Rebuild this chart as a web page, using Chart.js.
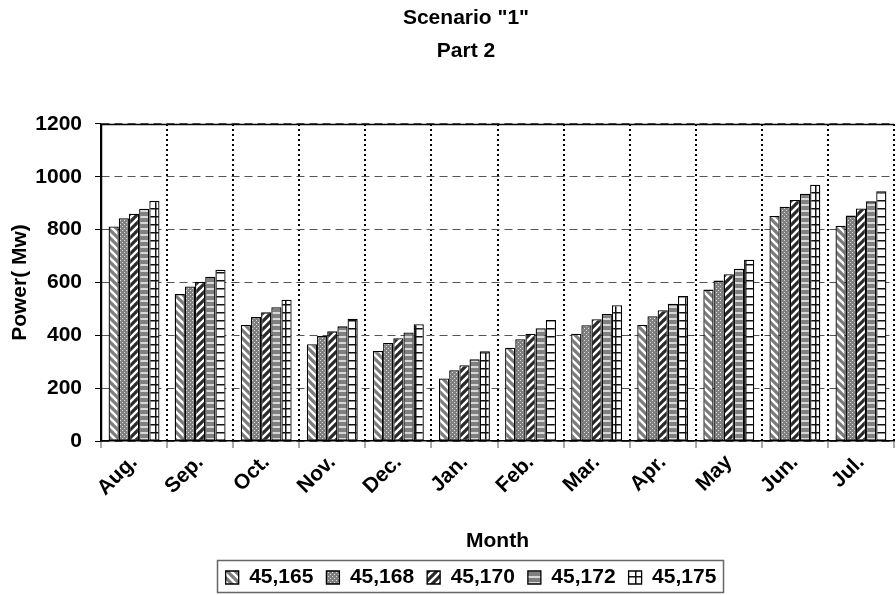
<!DOCTYPE html>
<html>
<head>
<meta charset="utf-8">
<script src="https://cdn.jsdelivr.net/npm/chart.js@4/dist/chart.umd.min.js"></script>
<style>
    html, body { margin: 0; padding: 0; background: #fff; }
    #wrap { width: 896px; height: 595px; }
</style>
</head>
<body>
<div id="wrap"><canvas id="chart" width="896" height="595"></canvas></div>
<script>
const months = ["Aug.", "Sep.", "Oct.", "Nov.", "Dec.", "Jan.", "Feb.", "Mar.", "Apr.", "May", "Jun.", "Jul."];
const seriesNames = ["45,165", "45,168", "45,170", "45,172", "45,175"];

const s45165 = [812, 556, 439, 366, 341, 237, 353, 406, 439, 573, 852, 815];
const s45168 = [843, 585, 469, 397, 371, 268, 385, 438, 472, 607, 887, 853];
const s45170 = [860, 603, 487, 415, 389, 287, 406, 461, 495, 631, 912, 880];
const s45172 = [879, 622, 506, 434, 411, 309, 427, 481, 519, 652, 936, 907];
const s45175 = [909, 648, 535, 463, 442, 340, 458, 514, 549, 686, 970, 945];

const yTicks = [0, 200, 400, 600, 800, 1000, 1200];

const FONT = '"Liberation Sans", Arial, sans-serif';

function makeTile(w, h, draw) {
    let c = document.createElement("canvas");
    c.width = w;
    c.height = h;
    let ctx = c.getContext("2d");
    ctx.fillStyle = "#fff";
    ctx.fillRect(0, 0, w, h);
    draw(ctx);
    return document.getElementById("chart").getContext("2d").createPattern(c, "repeat");
}

function diagonal(ctx, s, color, width, down) {
    ctx.strokeStyle = color;
    ctx.lineWidth = width;
    ctx.beginPath();
    for (let k = -1; k <= 1; k++) {
        if (down) {
            ctx.moveTo(k * s - 1, -1);
            ctx.lineTo(k * s + s + 1, s + 1);
        } else {
            ctx.moveTo(k * s - 1, s + 1);
            ctx.lineTo(k * s + s + 1, -1);
        }
    }
    ctx.stroke();
}

const patterns = [
    makeTile(8, 8, ctx => diagonal(ctx, 8, "#7c7c7c", 3.2, true)),
    makeTile(4, 4, ctx => {
        ctx.fillStyle = "#808080";
        ctx.fillRect(0, 0, 4, 4);
        ctx.fillStyle = "#dcdcdc";
        ctx.fillRect(0, 0, 1, 1);
        ctx.fillRect(2, 2, 1, 1);
    }),
    makeTile(8, 8, ctx => diagonal(ctx, 8, "#2a2a2a", 3.2, false)),
    makeTile(4, 6, ctx => {
        ctx.fillStyle = "#808080";
        ctx.fillRect(0, 0, 4, 6);
        ctx.fillStyle = "#d8d8d8";
        ctx.fillRect(0, 0, 4, 2);
    }),
    makeTile(10, 8, ctx => {
        ctx.fillStyle = "#111";
        ctx.fillRect(0, 0, 10, 1.5);
        ctx.fillRect(5, 0, 1.5, 8);
    })
];

const seriesValues = [s45165, s45168, s45170, s45172, s45175];

let datasets = seriesNames.map((name, i) => ({
    label: name,
    data: seriesValues[i],
    backgroundColor: patterns[i],
    borderColor: "#000",
    borderWidth: 1.3,
    borderSkipped: false,
    categoryPercentage: 0.77,
    barPercentage: 1.0
}));

// nudge title / legend / x title like the original, draw frame top and legend box
const shiftPlugin = {
    id: "shift",
    afterLayout(chart) {
        chart.titleBlock.left += 17;
        chart.titleBlock.right += 17;
        chart.legend.left += 22;
        chart.legend.right += 22;
        chart.legend.top += 8;
        chart.legend.bottom += 8;
        chart.scales.x.bottom += 12;
    },
    afterDraw(chart) {
        let ctx = chart.ctx;
        let a = chart.chartArea;
        ctx.save();
        ctx.strokeStyle = "#000";
        ctx.lineWidth = 1.5;
        ctx.beginPath();
        ctx.moveTo(a.left, a.top + 0.5);
        ctx.lineTo(a.right, a.top + 0.5);
        ctx.moveTo(a.left + 0.5, a.top);
        ctx.lineTo(a.left + 0.5, a.bottom);
        ctx.stroke();

        let lg = chart.legend;
        let w = lg.lineWidths ? lg.lineWidths[0] : 0;
        let cx = (lg.left + lg.right) / 2;
        let cy = (lg.top + lg.bottom) / 2;
        ctx.strokeStyle = "#666";
        ctx.lineWidth = 1.5;
        ctx.strokeRect(Math.round(cx - w / 2 - 2) + 0.5, Math.round(cy - 16) + 0.5, Math.round(w + 2), 32);
        ctx.restore();
    }
};

new Chart(document.getElementById("chart"), {
    type: "bar",
    data: {
        labels: months,
        datasets: datasets
    },
    options: {
        responsive: false,
        animation: false,
        layout: {
            padding: {left: 4, right: 2, top: 0, bottom: 5}
        },
        plugins: {
            title: {
                display: true,
                text: ['Scenario "1"', "Part 2"],
                color: "#000",
                font: {family: FONT, size: 21, weight: "bold", lineHeight: 1.57},
                padding: {top: 2, bottom: 56}
            },
            legend: {
                position: "bottom",
                labels: {
                    color: "#000",
                    font: {family: FONT, size: 21, weight: "bold"},
                    boxWidth: 13,
                    boxHeight: 13,
                    padding: 13
                }
            },
            tooltip: {enabled: false}
        },
        scales: {
            x: {
                grid: {
                    color: "#000",
                    lineWidth: 2,
                    tickBorderDash: [],
                    tickColor: "#555",
                    tickWidth: 1,
                    tickLength: 7
                },
                border: {color: "#000", width: 1.5, dash: [2, 3]},
                ticks: {
                    color: "#000",
                    font: {family: FONT, size: 21, weight: "bold"},
                    minRotation: 45,
                    maxRotation: 45,
                    padding: 2
                },
                title: {
                    display: true,
                    text: "Month",
                    color: "#000",
                    font: {family: FONT, size: 21, weight: "bold"},
                    padding: {top: 0, bottom: 4}
                },
                afterFit(scale) {
                    scale.height = 595 - 5 - scale.chart.legend.height - 441;
                }
            },
            y: {
                min: 0,
                max: 1200,
                afterBuildTicks(scale) {
                    scale.ticks = yTicks.map(v => ({value: v}));
                },
                grid: {
                    color: "#555",
                    lineWidth: 1,
                    tickBorderDash: [],
                    tickColor: "#000",
                    tickLength: 6
                },
                border: {color: "#000", width: 1.5, dash: [8, 5]},
                ticks: {
                    color: "#000",
                    font: {family: FONT, size: 21, weight: "bold"},
                    padding: 13,
                    callback: v => String(v)
                },
                title: {
                    display: true,
                    text: "Power( Mw)",
                    color: "#000",
                    font: {family: FONT, size: 21, weight: "bold"},
                    padding: {top: 4, bottom: 0}
                },
                afterFit(scale) {
                    scale.width = 97;
                }
            }
        }
    },
    plugins: [shiftPlugin]
});
</script>
</body>
</html>
